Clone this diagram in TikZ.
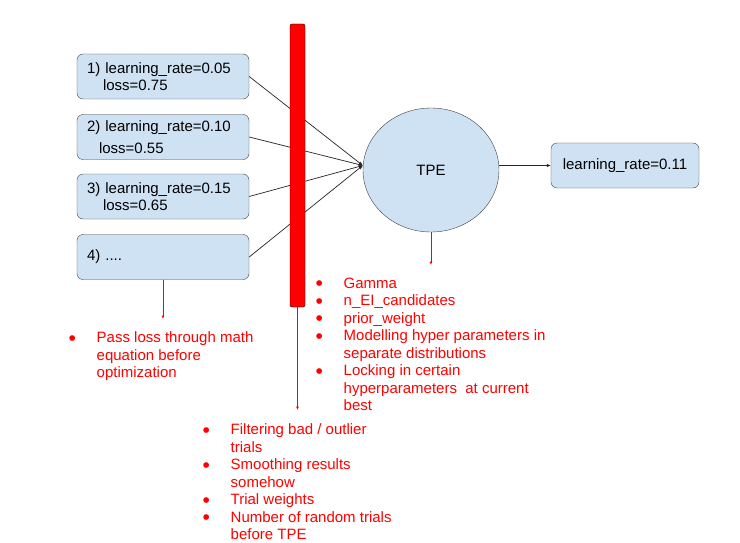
\documentclass[tikz,border=0pt]{standalone}
\usepackage{fontspec}
\setmainfont{Liberation Sans}
\usetikzlibrary{arrows.meta,shapes.geometric}
\definecolor{boxblue}{RGB}{207,226,243}
\definecolor{edgegray}{RGB}{67,67,67}
\newcommand{\itm}{\makebox[12pt]{\smash{\raisebox{-2.6pt}{\scalebox{1.4}{\textbullet}}}}\hspace{18.5pt}}
\newcommand{\cont}{\hspace*{30.5pt}}
\begin{document}
\begin{tikzpicture}[x=1pt,y=-1pt,
  every node/.style={font=\fontsize{15}{17.5}\selectfont},
  trial/.style={draw=edgegray,fill=boxblue,rounded corners=6pt,minimum width=172pt,minimum height=45pt,text width=152pt,align=left,inner xsep=10pt,inner ysep=0pt},
  result/.style={draw=edgegray,fill=boxblue,rounded corners=6pt,minimum width=148pt,minimum height=45pt},
  link/.style={draw=black!85,line width=0.7pt,-{Latex[length=4pt,width=3.5pt]}},
  note/.style={draw=red,line width=0.8pt,-{Latex[length=3.5pt,width=3pt]}},
  notes/.style={text=red,align=left,inner sep=0pt,anchor=north west}]
\useasboundingbox[fill=white] (0,0) rectangle (740,543);
\node[trial] (t1) at (163,76.5) {1) learning\_rate=0.05\\\hspace*{16pt}loss=0.75};
\node[trial] (t2) at (163,137) {2) learning\_rate=0.10\\[4pt]\hspace*{12pt}loss=0.55};
\node[trial] (t3) at (163,196.5) {3) learning\_rate=0.15\\\hspace*{16pt}loss=0.65};
\node[trial] (t4) at (163,257) {4) ....};
\node[draw=edgegray,fill=boxblue,ellipse,minimum width=136pt,minimum height=124pt] (tpe) at (431,170) {TPE};
\node[result] (res) at (625,165.5) {learning\_rate=0.11};
\coordinate (hit) at (tpe.west |- res.west);
\foreach \t in {t1,t2,t3,t4}
  \draw[link] (\t.east) -- (hit);
\draw[link] (tpe.east |- res.west) -- (res.west);
\node[draw=black,fill=red,rounded corners=2pt,minimum width=15pt,minimum height=283pt,inner sep=0pt] (bar) at (297.5,165.5) {};
\coordinate (tpeend) at (431,265);
\coordinate (t4end) at (163,319);
\coordinate (barend) at (297.5,410);
\draw[note] (tpe.south) -- (tpeend);
\draw[note] (t4.south) -- (t4end);
\draw[note] (bar.south) -- (barend);
\node[notes] (tpenotes) at (313,277.6) {\itm Gamma\\\itm n\_EI\_candidates\\\itm prior\_weight\\\itm Modelling hyper parameters in\\\cont separate distributions\\\itm Locking in certain\\\cont hyperparameters\ \ at current\\\cont best};
\node[notes] (lossnotes) at (66,331.6) {\itm Pass loss through math\\\cont equation before\\\cont optimization};
\node[notes] (barnotes) at (200,423.6) {\itm Filtering bad / outlier\\\cont trials\\\itm Smoothing results\\\cont somehow\\\itm Trial weights\\\itm Number of random trials\\\cont before TPE};
\end{tikzpicture}
\end{document}
